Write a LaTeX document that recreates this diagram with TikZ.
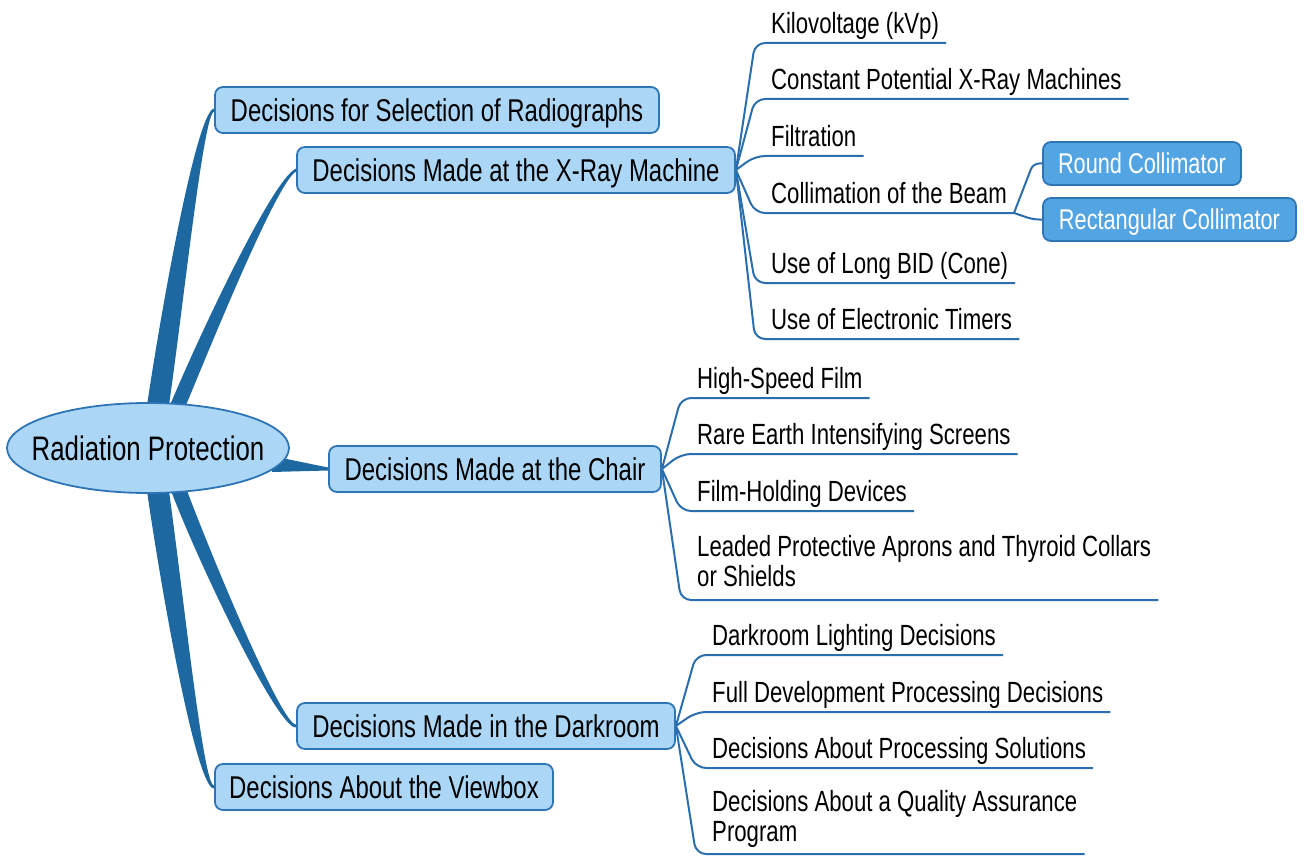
\documentclass[tikz,border=0pt]{standalone}
\usepackage{fontspec}
\setmainfont[FakeStretch=0.76]{Liberation Sans}
\usetikzlibrary{calc,backgrounds}

\definecolor{boxfill}{RGB}{171,214,246}
\definecolor{boxline}{RGB}{46,117,182}
\definecolor{limbblue}{RGB}{30,104,162}
\definecolor{collfill}{RGB}{82,164,226}
\definecolor{twigblue}{RGB}{42,110,174}

\newcommand\branchstem[6]{%
  \fill[limb] ($(#1)+(-#5,0)$) .. controls ($(#2)+(-#5,0)$) and ($(#3)+({-0.3*#5},{-1*(#6)})$) .. ($(#4)+(0,{-1*(#6)})$)
    -- ($(#4)+(0,#6)$) .. controls ($(#3)+({0.3*#5},#6)$) and ($(#2)+(#5,0)$) .. ($(#1)+(#5,0)$) -- cycle;}

\begin{document}
\begin{tikzpicture}[
		x=1pt, y=-1pt,
		topic/.style={rectangle, rounded corners=8pt, draw=boxline, line width=1.8pt, fill=boxfill,
			minimum height=46pt, inner sep=0pt, text height=22.5pt, text depth=0pt,
			font=\fontsize{31.5}{34}\selectfont},
		subtopic/.style={topic, fill=collfill, text=white, minimum height=43pt, text height=20.5pt,
			font=\fontsize{28.6}{30}\selectfont},
		leaf/.style={anchor=south west, inner xsep=0pt, inner ysep=9pt, text depth=0pt, align=left,
			font=\fontsize{29.2}{30}\selectfont},
		twig/.style={draw=twigblue, line width=2pt, rounded corners=10pt},
		limb/.style={fill=limbblue}
	]
  \useasboundingbox (0,0) rectangle (1304,856);

  \coordinate (rootc) at (148,448);
  \draw[draw=boxline, line width=1.8pt, fill=boxfill] (rootc) ellipse [x radius=141, y radius=45];
  \node (root) [inner sep=0pt, font=\fontsize{34}{36}\selectfont] at (rootc) {Radiation Protection};

  \node (sel) [topic, minimum width=444pt] at (437,110) {Decisions for Selection of Radiographs};
  \node (xray) [topic, minimum width=438pt] at (516,170) {Decisions Made at the X-Ray Machine};
  \node (chair) [topic, minimum width=332pt] at (495,469) {Decisions Made at the Chair};
  \node (dark) [topic, minimum width=378pt] at (486,726) {Decisions Made in the Darkroom};
  \node (view) [topic, minimum width=338pt] at (384,787) {Decisions About the Viewbox};

  \node (kvp) [leaf] at (771,43) {Kilovoltage (kVp)};
  \node (cpm) [leaf] at (771,99) {Constant Potential X-Ray Machines};
  \node (filt) [leaf] at (771,156) {Filtration};
  \node (coll) [leaf] at (771,213) {Collimation of the Beam};
  \node (bid) [leaf] at (771,283) {Use of Long BID (Cone)};
  \node (timer) [leaf] at (771,339) {Use of Electronic Timers};

  \node (round) [subtopic, minimum width=198pt] at (1142,163.5) {Round Collimator};
  \node (rect) [subtopic, minimum width=253pt] at (1169.5,219.5) {Rectangular Collimator};

  \node (hsf) [leaf] at (697,398) {High-Speed Film};
  \node (rare) [leaf] at (697,454) {Rare Earth Intensifying Screens};
  \node (fhd) [leaf] at (697,511) {Film-Holding Devices};
  \node (apron) [leaf, inner ysep=13pt] at (697,600) {Leaded Protective Aprons and Thyroid Collars\\or Shields};

  \node (light) [leaf] at (712,655) {Darkroom Lighting Decisions};
  \node (fulldev) [leaf] at (712,712) {Full Development Processing Decisions};
  \node (solut) [leaf] at (712,768) {Decisions About Processing Solutions};
  \node (qa) [leaf, inner ysep=12pt] at (712,854) {Decisions About a Quality Assurance\\Program};

  \coordinate (s_sel) at (157,412);   \coordinate (a_sel) at (172,310);   \coordinate (b_sel) at (200,112);
  \coordinate (s_xray) at (176,410);  \coordinate (a_xray) at (205,340);  \coordinate (b_xray) at (275,180);
  \coordinate (s_dark) at (178,488);  \coordinate (a_dark) at (205,560);  \coordinate (b_dark) at (280,728);
  \coordinate (s_view) at (157,484);  \coordinate (a_view) at (172,590);  \coordinate (b_view) at (200,789);
  \coordinate (s_chair_t) at (272,456);
  \coordinate (s_chair_b) at (272,472);
  \coordinate (fork) at ($(coll.south east)+(7,0)$);

  \begin{scope}[on background layer]
    \branchstem{s_sel}{a_sel}{b_sel}{sel.west}{11}{1.5}
    \branchstem{s_xray}{a_xray}{b_xray}{xray.west}{8}{1.5}
    \branchstem{s_dark}{a_dark}{b_dark}{dark.west}{8}{-1.5}
    \branchstem{s_view}{a_view}{b_view}{view.west}{11}{-1.5}
    \fill[limb] (s_chair_t) -- ($(chair.west)+(0,-1.5)$) -- ($(chair.west)+(0,1.5)$) -- (s_chair_b) -- cycle;

    \foreach \leaf in {kvp,cpm,filt,coll,bid,timer}
      \draw[twig] (xray.east) -- ($(\leaf.south west)+(-16,0)$) -- ($(\leaf.south east)+(7,0)$);
    \foreach \leaf in {hsf,rare,fhd,apron}
      \draw[twig] (chair.east) -- ($(\leaf.south west)+(-16,0)$) -- ($(\leaf.south east)+(7,0)$);
    \foreach \leaf in {light,fulldev,solut,qa}
      \draw[twig] (dark.east) -- ($(\leaf.south west)+(-16,0)$) -- ($(\leaf.south east)+(7,0)$);

    \draw[twig, rounded corners=6pt] (fork) -- ($(round.west)+(-9,0)$) -- (round.west);
    \draw[twig, rounded corners=6pt] (fork) -- ($(rect.west)+(-9,0)$) -- (rect.west);
  \end{scope}
\end{tikzpicture}
\end{document}
